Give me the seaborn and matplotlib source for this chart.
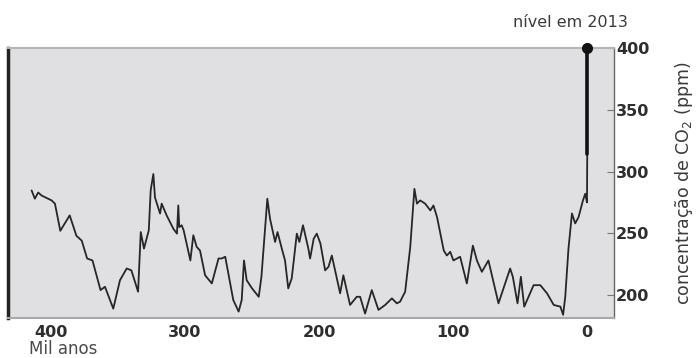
"""
CO2 concentration over the last ~420 thousand years (ice core record)
plus the 2013 level.
"""
import pandas as pd
import matplotlib.pyplot as plt
import seaborn as sns

# thousand years before present
age_kyr = [414.4, 412, 409.5, 407, 399.5, 397, 393, 386, 381, 377, 373, 369,
           363, 359.7, 353.5, 348.5, 343.5, 340, 335, 333, 330.6, 327, 325.6,
           323.6, 322.4, 318.6, 317.4, 313.7, 308.7, 306, 305, 304.3, 302.5,
           301, 296, 293.8, 291.3, 288.8, 285, 280, 275, 272.6, 270, 264, 260,
           257.7, 256, 254, 250, 245, 243, 240, 238.6, 236.6, 232.8, 231,
           227.8, 225.4, 223, 220.4, 216.6, 214.7, 212, 208, 206.7, 204,
           201.7, 199, 195.5, 193, 190.5, 184.3, 181.9, 176.9, 171.9, 169.4,
           165.7, 160.7, 155.7, 150.7, 145.7, 142, 139.6, 135.8, 132, 128.9,
           127, 124.6, 120.9, 117, 114.7, 112, 107, 104.7, 102.2, 99.8, 94.8,
           89.8, 85.3, 82.3, 78.6, 73.7, 66.2, 57.5, 55.5, 52, 49.5, 47, 40,
           35, 30, 25, 20, 18, 16.4, 14, 11.4, 9, 6.5, 3.2, 1.5, 0.2, 0]
# ppm
co2_ppm = [284.7, 278, 283, 280.6, 276.6, 274, 252, 264.5, 248, 244, 229.6,
           228, 204, 206.7, 189, 212, 221.5, 220, 202.7, 251, 237.6, 252.4,
           284.7, 298, 279, 266, 274, 264.5, 253.7, 249.7, 272.5, 255, 256.5,
           252.4, 228, 248.4, 239, 236, 216, 209.4, 229.6, 229.6, 231, 196,
           186.6, 196, 228, 212, 205.4, 198.6, 214.8, 257.8, 278, 261.8, 243,
           251, 237.6, 228, 205.4, 213.5, 249.7, 243, 256.5, 237.6, 229.6,
           245.7, 249.7, 241.7, 220, 222.8, 232, 201.4, 216, 192, 198.6, 198.6,
           185, 204, 188, 192, 197.3, 193.3, 194.6, 202.7, 239, 286, 274,
           276.6, 274, 268.5, 272.5, 263, 236, 232, 235, 228, 231, 209.4, 240,
           228, 218.8, 228, 193.3, 221.5, 214.8, 193.3, 214.8, 190.6, 208, 208,
           201.4, 192, 190.6, 184, 198.6, 237.6, 266, 258, 263, 276.6, 282, 275,
           314]

# modern (industrial era) rise up to the 2013 level
modern_age = [0, 0]
modern_ppm = [314, 400]

sns.set_theme(style="white")
plt.rcParams['font.family'] = ['DejaVu Sans']

df = pd.DataFrame({"age": age_kyr, "co2": co2_ppm})
df_mod = pd.DataFrame({"age": modern_age, "co2": modern_ppm})

fig = plt.figure(figsize=(6.97, 3.58), dpi=100)
ax = fig.add_axes([0.0115, 0.112, 0.8695, 0.754])
ax.set_facecolor("#e0e0e2")

sns.lineplot(data=df, x="age", y="co2", sort=False, estimator=None,
             color="#262626", lw=1.3, ax=ax)
sns.lineplot(data=df_mod, x="age", y="co2", sort=False, estimator=None,
             color="#111111", lw=2.6, ax=ax)
ax.plot([0], [400], "o", color="#111111", ms=7, clip_on=False, zorder=5)

ax.set_xlim(432, -20)
ax.set_ylim(181.5, 400)
ax.set_xticks([400, 300, 200, 100, 0])
ax.set_yticks([200, 250, 300, 350, 400])

ax.yaxis.tick_right()
ax.yaxis.set_label_position("right")
ax.tick_params(axis="y", direction="in", length=5, width=0.8, color="#777777",
               pad=1.5, labelsize=11.5, labelcolor="#2e2e2e")
ax.tick_params(axis="x", direction="in", length=3, width=1, color="#555555",
               pad=5, labelsize=11.5, labelcolor="#2e2e2e")
for lab in ax.get_xticklabels() + ax.get_yticklabels():
    lab.set_fontweight("bold")

ax.set_xlabel("")
ax.set_ylabel("concentração de CO$_2$ (ppm)", fontsize=12.5, color="#3a3a3a",
              labelpad=17)

ax.spines["left"].set_color("#222222")
ax.spines["left"].set_linewidth(2.5)
ax.spines["top"].set_color("#b5b5b5")
ax.spines["top"].set_linewidth(1.5)
ax.spines["bottom"].set_color("#a8a8a8")
ax.spines["bottom"].set_linewidth(1.5)
ax.spines["right"].set_color("#666666")
ax.spines["right"].set_linewidth(1)

fig.text(0.818, 0.938, "nível em 2013", ha="center", va="center",
         fontsize=11.5, color="#3a3a3a")
fig.text(0.041, 0.026, "Mil anos", ha="left", va="center",
         fontsize=12, color="#4a4a4a")

plt.savefig("out.png", dpi=100)
